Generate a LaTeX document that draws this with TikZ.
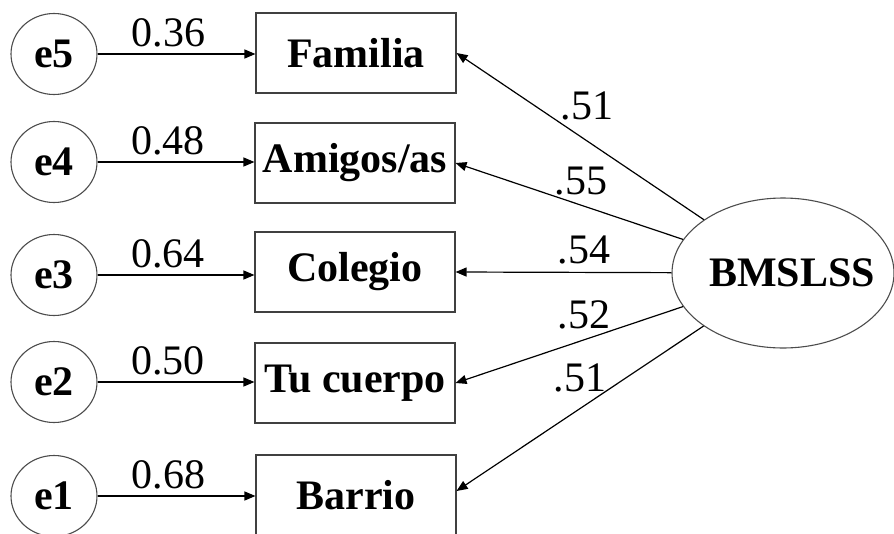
\documentclass[tikz,border=0pt]{standalone}
\usepackage{fontspec}
\setmainfont{Liberation Serif}
\usetikzlibrary{arrows.meta,shapes.geometric}
\begin{document}
\begin{tikzpicture}[x=1pt,y=-1pt,
  errnode/.style={ellipse,draw=black!70,line width=1.1pt,minimum width=86pt,minimum height=81pt,inner sep=0pt,font=\fontsize{42}{50}\selectfont\bfseries},
  obsbox/.style={rectangle,draw=black!75,line width=1.1pt,minimum width=200pt,minimum height=80pt,inner sep=0pt,font=\fontsize{42}{50}\selectfont\bfseries},
  latent/.style={ellipse,draw=black!70,line width=1.1pt,minimum width=222pt,minimum height=150pt,inner sep=0pt},
  ltext/.style={inner sep=0pt,font=\fontsize{42}{50}\selectfont\bfseries},
  arr/.style={-{Triangle[length=11pt,width=9pt]},line width=1.2pt,black},
  coef/.style={inner sep=0pt,font=\fontsize{42}{50}\selectfont},
  wlab/.style={coef,pos=0.45,above=6pt}
]
\useasboundingbox (0,0) rectangle (894,533);
\node[errnode] (e5) at (54,54) {e5};
\node[errnode] (e4) at (54,162) {e4};
\node[errnode] (e3) at (54,275) {e3};
\node[errnode] (e2) at (54,382) {e2};
\node[errnode] (e1) at (54,496) {e1};
\node[obsbox] (fam) at (356,53) {Familia};
\node[obsbox] (ami) at (355,163) {Amigos/as};
\node[obsbox] (col) at (355,272) {Colegio};
\node[obsbox] (tuc) at (355,383) {Tu cuerpo};
\node[obsbox] (bar) at (356,495) {Barrio};
\node[latent] (bm) at (783,273) {};
\node[ltext] (bmt) at (792,273) {BMSLSS};
\draw[arr] (e5) -- node[wlab] (l5) {0.36} (fam.west |- e5);
\draw[arr] (e4) -- node[wlab] (l4) {0.48} (ami.west |- e4);
\draw[arr] (e3) -- node[wlab] (l3) {0.64} (col.west |- e3);
\draw[arr] (e2) -- node[wlab] (l2) {0.50} (tuc.west |- e2);
\draw[arr] (e1) -- node[wlab] (l1) {0.68} (bar.west |- e1);
\draw[arr] (bm) -- (fam.east);
\draw[arr] (bm) -- (ami.east);
\draw[arr] (bm) -- (col.east);
\draw[arr] (bm) -- (tuc.east);
\draw[arr] (bm) -- ([yshift=4pt]bar.east);
\node[coef] (r5) at (587,106) {.51};
\node[coef] (r4) at (581,181) {.55};
\node[coef] (r3) at (584,250) {.54};
\node[coef] (r2) at (584,315) {.52};
\node[coef] (r1) at (580,378) {.51};
\end{tikzpicture}
\end{document}
